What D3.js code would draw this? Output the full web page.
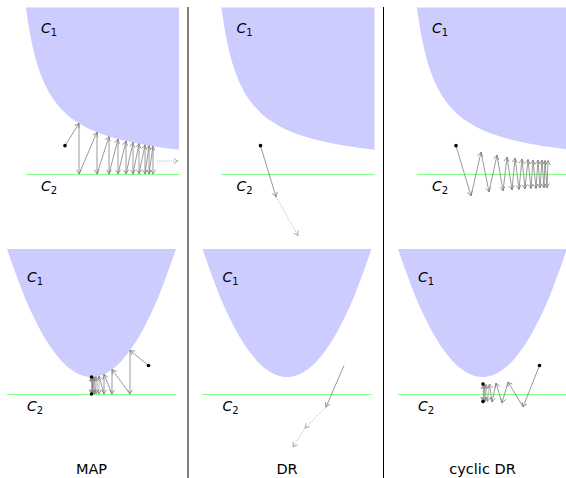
<!DOCTYPE html>
<html><head><meta charset="utf-8">
<script src="https://cdn.jsdelivr.net/npm/d3@7"></script>
<style>body{margin:0;background:#fff}svg{display:block}</style>
</head><body><svg id="c" width="566" height="478"></svg>
<script>
// ---------- data ----------
const methods = ["MAP", "DR", "cyclic DR"];

// boundary of C1 (top row): hyperbola-like curve
const hyperbolaC1 = [[0,16.7],[0.1,15.96],[0.2,15.3],[0.4,14.1],[0.7,12.65],[1.0,11.47],[1.4,10.22],[1.9,9.0],[2.4,8.06],[3.1,7.04],[3.9,6.17],[5.3,5.1],[6.4,4.5],[7.4,4.08],[8.9,3.59],[10.4,3.22],[12.4,2.85],[15.3,2.45]];
// boundary of C1 (bottom row): parabola
const parabolaC1 = [[-8.45,14.5],[-7,10.49],[-6,8.15],[-5,6.18],[-4,4.57],[-3,3.31],[-2,2.42],[-1,1.88],[0,1.7],[1,1.88],[2,2.42],[3,3.31],[4,4.57],[5,6.18],[6,8.15],[7,10.49],[8.45,14.5]];

// top row iterates
const mapTop = [[3.9,2.85],[5.3,5.1],[5.3,0],[7.1,4.2],[7.1,0],[8.3,3.77],[8.3,0],[9.2,3.51],[9.2,0],[10.0,3.31],[10.0,0],[10.7,3.16],[10.7,0],[11.3,3.04],[11.3,0],[11.9,2.93],[11.9,0],[12.3,2.86],[12.3,0],[12.7,2.8],[12.7,0]];
const mapTopTail = [[13.1,1.3],[15.2,1.3]];
const drTop = [[3.9,2.85],[5.45,-2.3]];
const drTopTail = [[5.45,-2.3],[7.65,-6.2]];
const cdrTop = [[3.9,2.85],[5.4,-2.2],[6.4,2.2],[7.2,-1.8],[8.0,1.9],[8.6,-1.7],[9.0,1.7],[9.5,-1.6],[9.8,1.6],[10.2,-1.55],[10.5,1.5],[10.8,-1.5],[11.1,1.45],[11.4,-1.45],[11.6,1.4],[11.9,-1.45],[12.1,1.4],[12.3,-1.4],[12.5,1.4],[12.7,-1.4],[12.8,1.35],[13.0,-1.4],[13.1,1.35]];

// bottom row iterates
const mapBottom = [[5.7,2.85],[3.85,4.36],[3.85,0],[2.05,2.45],[2.05,0],[1.25,1.98],[1.25,0],[0.75,1.8],[0.75,0],[0.45,1.74],[0.45,0],[0.27,1.71],[0.27,0],[0.16,1.7],[0.16,0],[0.1,1.7],[0.1,0],[0.06,1.7],[0.06,0],[0.03,1.7],[0.03,0]];
const mapBottomEnd = [[0,1.7],[0,0]];
const drBottom = [[5.7,2.85],[3.9,-1.3]];
const drBottomTail = [[3.9,-1.3],[1.8,-3.4],[0.6,-5.3]];
const cdrBottom = [[5.7,2.85],[4.05,-1.3],[2.55,1.2],[1.95,-0.9],[1.35,1.1],[0.95,-0.8],[0.7,1.0],[0.5,-0.75],[0.35,0.95],[0.25,-0.75],[0.18,0.95],[0.13,-0.75],[0.09,0.95],[0.07,-0.75]];
const cdrBottomEnd = [[0.05,1.0],[0.05,-0.75]];

const topLabels = [{n:"1", p:[1.5,14.2]}, {n:"2", p:[1.5,-1.7]}];
const bottomLabels = [{n:"1", p:[-6.45,11.2]}, {n:"2", p:[-6.45,-1.7]}];

// ---------- drawing ----------
const svg = d3.select("#c");
const GRAY = "#808080", LGRAY = "#9a9a9a", GREEN = "#80ff80";
const defs = svg.append("defs");
function mk(id, col){
  defs.append("marker").attr("id", id).attr("viewBox","-6 -4 8 8")
    .attr("markerUnits","userSpaceOnUse").attr("markerWidth",8).attr("markerHeight",8)
    .attr("refX",0).attr("refY",0).attr("orient","auto")
    .append("path").attr("d","M-4.2,-2.6 Q-1.5,-0.6 0,0 Q-1.5,0.6 -4.2,2.6")
    .attr("fill","none").attr("stroke",col).attr("stroke-width",0.8);
}
mk("ah", GRAY); mk("ahl", LGRAY);

const STEP = 195.5;
function topScales(i){
  return {x: d3.scaleLinear().domain([0,15.3]).range([26+i*STEP, 179+i*STEP]),
          y: d3.scaleLinear().domain([0,16.75]).range([174, 7.5])};
}
function botScales(i){
  return {x: d3.scaleLinear().domain([-8.45,8.45]).range([7+i*STEP, 176+i*STEP]),
          y: d3.scaleLinear().domain([0,14.5]).range([394, 249])};
}

function segs(g, s, pts, dotted, w){
  for (let k=0;k<pts.length-1;k++){
    g.append("line")
      .attr("x1", s.x(pts[k][0])).attr("y1", s.y(pts[k][1]))
      .attr("x2", s.x(pts[k+1][0])).attr("y2", s.y(pts[k+1][1]))
      .attr("stroke", dotted?LGRAY:GRAY).attr("stroke-width", w||0.8)
      .attr("stroke-dasharray", dotted?"1,1.3":null)
      .attr("marker-end", dotted?"url(#ahl)":"url(#ah)");
  }
}
function dots(g, s, pts){
  g.selectAll(null).data(pts).join("circle")
    .attr("cx", d=>s.x(d[0])).attr("cy", d=>s.y(d[1])).attr("r",1.8).attr("fill","#000");
}
function label(g, s, l){
  const t = g.append("text").attr("x", s.x(l.p[0])).attr("y", s.y(l.p[1]))
    .attr("font-family","DejaVu Sans, sans-serif").attr("font-size",14);
  t.append("tspan").attr("font-style","italic").text("C");
  t.append("tspan").attr("font-size",10).attr("dy",3).text(l.n);
}
const greens = [];
function greenLine(g, s, x0, x1){
  greens.push({x: s.x(x0), w: s.x(x1)-s.x(x0), y: Math.round(s.y(0))});
}

for (let i=0;i<3;i++){
  const st = topScales(i);
  const gt = svg.append("g");
  gt.append("path").datum(hyperbolaC1)
    .attr("d", d3.area().x(d=>st.x(d[0])).y0(st.y(16.75)).y1(d=>st.y(d[1])).curve(d3.curveMonotoneX))
    .attr("fill","#ccccff");
  greenLine(gt, st, 0, 15.3);
  topLabels.forEach(l=>label(gt, st, l));

  const sb = botScales(i);
  const gb = svg.append("g");
  gb.append("path").datum(parabolaC1)
    .attr("d", d3.line().x(d=>sb.x(d[0])).y(d=>sb.y(d[1])).curve(d3.curveNatural)(parabolaC1)+"Z")
    .attr("fill","#ccccff");
  greenLine(gb, sb, -8.45, 8.45);
  bottomLabels.forEach(l=>label(gb, sb, l));

  if (i===0){
    segs(gt, st, mapTop, false);
    segs(gt, st, mapTopTail, true);
    dots(gt, st, [mapTop[0]]);
    segs(gb, sb, mapBottom.slice(0,8), false);
    segs(gb, sb, mapBottom.slice(7), false, 0.5);
    dots(gb, sb, [mapBottom[0]].concat(mapBottomEnd));
  } else if (i===1){
    segs(gt, st, drTop, false);
    segs(gt, st, drTopTail, true);
    dots(gt, st, [drTop[0]]);
    segs(gb, sb, drBottom, false);
    segs(gb, sb, drBottomTail, true);
  } else {
    segs(gt, st, cdrTop, false);
    dots(gt, st, [cdrTop[0]]);
    segs(gb, sb, cdrBottom.slice(0,7), false);
    segs(gb, sb, cdrBottom.slice(6), false, 0.5);
    dots(gb, sb, [cdrBottom[0]].concat(cdrBottomEnd));
  }

  svg.append("text").attr("x", 91.5+i*STEP).attr("y", 474).attr("text-anchor","middle")
    .attr("font-family","DejaVu Sans, sans-serif").attr("font-size",14.5).text(methods[i]);
}
// green lines on a layer below the arrows
svg.insert("g", "g").selectAll("rect").data(greens).join("rect")
  .attr("x", d=>d.x).attr("width", d=>d.w).attr("y", d=>d.y).attr("height", 1).attr("fill", GREEN);
// dividers
[188, 188+STEP].forEach(x=>{
  svg.append("line").attr("x1",x).attr("x2",x).attr("y1",7).attr("y2",478)
    .attr("stroke","#000").attr("stroke-width",1);
});
</script></body></html>
